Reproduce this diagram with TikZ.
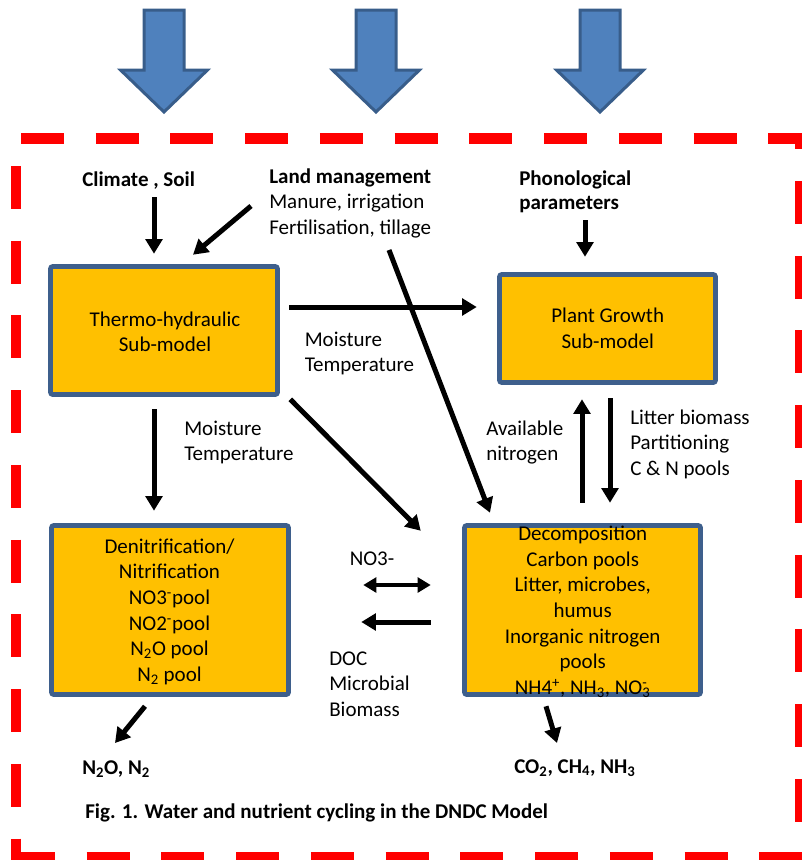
\documentclass[tikz,border=0pt]{standalone}
\usepackage{fontspec}
\setmainfont{Carlito}
\usetikzlibrary{arrows.meta}
\definecolor{boxfill}{HTML}{FFC000}
\definecolor{boxline}{HTML}{3E5F8C}
\definecolor{bluefill}{HTML}{4F81BD}
\definecolor{blueline}{HTML}{385D8A}
\definecolor{dashred}{HTML}{FF0000}
\begin{document}
\begin{tikzpicture}[x=0.75pt,y=-0.75pt,
  box/.style={draw=boxline, fill=boxfill, line width=3.4pt, rounded corners=1.5pt, inner sep=0pt},
  txt/.style={font=\fontsize{15.75}{18.9}\selectfont, inner sep=0pt, align=left, anchor=base west},
  boxtxt/.style={font=\fontsize{15.75}{19.2}\selectfont, inner sep=0pt, align=center, anchor=base},
  bold/.style={font=\fontsize{15.75}{18}\selectfont\bfseries, inner sep=0pt, align=left, anchor=base west},
  arr/.style={line width=3.75pt, -{Triangle[length=11pt,width=12.5pt]}},
  arrd/.style={line width=3pt, {Triangle[length=9.75pt,width=11pt]}-{Triangle[length=9.75pt,width=11pt]}},
  bigarrow/.style={fill=bluefill, draw=blueline, line width=2.25pt},
  border/.style={draw=dashred, line width=7.9pt, dash pattern=on 32.25pt off 23.8pt}
]
\useasboundingbox (0,0) rectangle (802,860);

% big input arrows
\foreach \cx in {164,376,600}{
  \draw[bigarrow] (\cx-20,10) -- (\cx+20,10) -- (\cx+20,70) -- (\cx+43.5,70)
    -- (\cx,112) -- (\cx-43.5,70) -- (\cx-20,70) -- cycle;
}

% dashed red border
\draw[border] (21,138.5) -- (805.25,138.5);
\draw[border, dash phase=20.25pt] (800,133.25) -- (800,865);
\draw[border] (16,166) -- (16,865);
\draw[border] (12,857) -- (805,857);

% boxes
\node[box, minimum width=170.25pt, minimum height=96pt] (th) at (164,330.5) {};
\node[box, minimum width=162pt, minimum height=81pt] (pg) at (607.5,328.5) {};
\node[box, minimum width=177.75pt, minimum height=126.75pt] (dn) at (170,610) {};
\node[box, minimum width=177pt, minimum height=126.75pt] (dc) at (582.5,610) {};

% box texts (base anchor = baseline of the last line)
\node[boxtxt] (thtxt) at (165,351.7) {Thermo-hydraulic\\Sub-model};
\node[boxtxt] (pgtxt) at (607.7,348.3) {Plant Growth\\Sub-model};
\node[boxtxt] (dntxt) at (169.5,681.3) {Denitrification/\\Nitrification\\NO3\textsuperscript{-}pool\\NO2\textsuperscript{-}pool\\N\textsubscript{2}O pool\\N\textsubscript{2} pool};
\node[boxtxt] (dctxt) at (582.7,694.3) {Decomposition\\Carbon pools\\Litter, microbes,\\humus\\Inorganic nitrogen\\pools\\NH4\textsuperscript{+}, NH\textsubscript{3}, NO\rlap{\textsuperscript{-}}\textsubscript{3}};

% labels
\node[bold] (climate) at (82,186) {Climate , Soil};
\node[txt] (land) at (269,234) {\textbf{Land management}\\Manure, irrigation\\Fertilisation, tillage};
\node[bold] (phono) at (519,209) {Phonological\\parameters};
\node[txt] (mt1) at (304.5,371.7) {Moisture\\Temperature};
\node[txt] (mt2) at (184,460.7) {Moisture\\Temperature};
\node[txt] (avn) at (486,460.7) {Available\\nitrogen};
\node[txt] (lit) at (630,475) {Litter biomass\\Partitioning\\C \& N pools};
\node[txt] (no3) at (349.5,565) {NO3-};
\node[txt] (doc) at (329,716) {DOC\\Microbial\\Biomass};
\node[bold] (n2o) at (82,774) {N\textsubscript{2}O, N\textsubscript{2}};
\node[bold] (co2) at (514,773) {CO\textsubscript{2}, CH\textsubscript{4}, NH\textsubscript{3}};
\node[bold] (cap) at (85,818) {Fig. 1. Water and nutrient cycling in the DNDC Model};

% free ends
\coordinate (c1) at (154,197);
\coordinate (c2) at (251,206);
\coordinate (c3) at (585,220);
\coordinate (c5) at (389,250);
\coordinate (c12) at (115,743);
\coordinate (c13) at (557,743);

% connectors
\draw[arr] (c1) -- ([xshift=-7.5pt,yshift=7.875pt]th.north);
\draw[arr] (c2) -- ([xshift=21.75pt,yshift=7.125pt]th.north);
\draw[arr] (c3) -- ([xshift=-16.875pt,yshift=11.625pt]pg.north);
\draw[arr] ([xshift=7.125pt,yshift=17.625pt]th.east) -- ([xshift=-15.375pt,yshift=16.125pt]pg.west);
\draw[arr] (c5) -- ([xshift=-69.375pt,yshift=7.875pt]dc.north);
\draw[arr] ([xshift=7.875pt,yshift=-1.875pt]th.south east) -- ([xshift=-31.125pt,yshift=-5.625pt]dc.north west);
\draw[arr] ([xshift=-7.5pt,yshift=-9.375pt]th.south) -- ([xshift=-12pt,yshift=9.375pt]dn.north);
\draw[arr] ([xshift=-0.375pt,yshift=15.375pt]dc.north) -- ([xshift=-19.125pt,yshift=-10.875pt]pg.south);
\draw[arr] ([xshift=1.875pt,yshift=-10.125pt]pg.south) -- ([xshift=20.625pt,yshift=15.375pt]dc.north);
\draw[arrd] ([xshift=54.375pt,yshift=18.75pt]dn.east) -- ([xshift=-23.625pt,yshift=18.75pt]dc.west);
\draw[arr] ([xshift=-23.625pt,yshift=-9pt]dc.west) -- ([xshift=52.875pt,yshift=-9pt]dn.east);
\draw[arr] ([xshift=-18.75pt,yshift=-7.125pt]dn.south) -- (c12);
\draw[arr] ([xshift=-27.375pt,yshift=-7.125pt]dc.south) -- (c13);
\end{tikzpicture}
\end{document}
